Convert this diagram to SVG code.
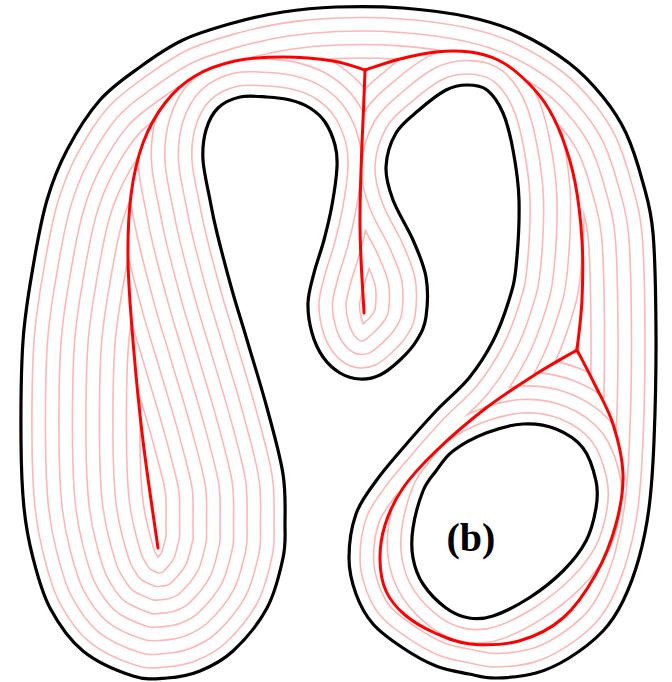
<svg xmlns="http://www.w3.org/2000/svg" xmlns:xlink="http://www.w3.org/1999/xlink" width="672" height="682" viewBox="0 0 672 682">
<style>
.p{stroke:#ffb6b6}
.w{stroke:#ffffff}
.axis{fill:none;stroke:#ff0000;stroke-width:3;stroke-linecap:round;stroke-linejoin:round}
.edge{fill:none;stroke:#000000;stroke-width:3.2;stroke-linejoin:round}
.lbl{font-family:"Liberation Serif","Times New Roman",serif;font-weight:bold;font-size:40px;fill:#000}
</style>
<defs>
<path id="bd" fill-rule="evenodd" clip-rule="evenodd" d="M133,676 C119,671.5 96.8,662.3 83,651 C69.2,639.7 58.3,623.5 50,608 C41.7,592.5 37.3,574.7 33,558 C28.7,541.3 26,527.5 24,508 C22,488.5 21.2,468.8 21,441 C20.8,413.2 21,370 23,341 C25,312 29,290.5 33,267 C37,243.5 41.3,219.5 47,200 C52.7,180.5 58.2,166.7 67,150 C75.8,133.3 87.8,113.8 100,100 C112.2,86.2 126.2,77 140,67 C153.8,57 167.5,47.3 183,40 C198.5,32.7 216.3,27.7 233,23 C249.7,18.3 265.8,14.7 283,12 C300.2,9.3 316,7.7 336,7 C356,6.3 380.8,6.3 403,8 C425.2,9.7 449.7,12.8 469,17 C488.3,21.2 502.3,25.3 519,33 C535.7,40.7 555,52.3 569,63 C583,73.7 593.5,85.3 603,97 C612.5,108.7 619.3,118.7 626,133 C632.7,147.3 638.5,166.3 643,183 C647.5,199.7 650.8,208 653,233 C655.2,258 655.8,298.3 656,333 C656.2,367.7 655.2,411.8 654,441 C652.8,470.2 651.5,488.5 649,508 C646.5,527.5 643.3,542.5 639,558 C634.7,573.5 629,588.8 623,601 C617,613.2 612,621.5 603,631 C594,640.5 580.2,651 569,658 C557.8,665 548.2,669.7 536,673 C523.8,676.3 507.2,677.8 496,678 C484.8,678.2 479,676 469,674 C459,672 447,670.3 436,666 C425,661.7 413.5,655 403,648 C392.5,641 380.8,633 373,624 C365.2,615 360,605 356,594 C352,583 349,571.3 349,558 C349,544.7 351.5,526.8 356,514 C360.5,501.2 368.2,492 376,481 C383.8,470 393,459.7 403,448 C413,436.3 425,422.7 436,411 C447,399.3 459.5,389.7 469,378 C478.5,366.3 486.3,354 493,341 C499.7,328 505.2,312.3 509,300 C512.8,287.7 514.3,283.7 516,267 C517.7,250.3 519.5,219.5 519,200 C518.5,180.5 515.7,164.5 513,150 C510.3,135.5 507.3,123 503,113 C498.7,103 493,94.7 487,90 C481,85.3 473.8,85 467,85 C460.2,85 454,85.8 446,90 C438,94.2 427.3,102.8 419,110 C410.7,117.2 401.5,123.5 396,133 C390.5,142.5 386.5,155.8 386,167 C385.5,178.2 388.5,187.8 393,200 C397.5,212.2 407.5,227.2 413,240 C418.5,252.8 423.8,264.2 426,277 C428.2,289.8 427.5,306.5 426,317 C424.5,327.5 421.3,332.8 417,340 C412.7,347.2 406.2,354.2 400,360 C393.8,365.8 386.7,371.8 380,375 C373.3,378.2 366.7,379.3 360,379 C353.3,378.7 346.2,376.7 340,373 C333.8,369.3 327.7,363.7 323,357 C318.3,350.3 314.5,342 312,333 C309.5,324 307.7,313 308,303 C308.3,293 311.3,283.5 314,273 C316.7,262.5 321,251.3 324,240 C327,228.7 329.8,217.2 332,205 C334.2,192.8 336.5,177 337,167 C337.5,157 337,152.5 335,145 C333,137.5 329.2,128.2 325,122 C320.8,115.8 315.8,111.7 310,108 C304.2,104.3 297.2,101.8 290,100 C282.8,98.2 275.3,97.5 267,97 C258.7,96.5 248.2,95.2 240,97 C231.8,98.8 223.7,102.5 218,108 C212.3,113.5 208.5,121.3 206,130 C203.5,138.7 202.3,148.3 203,160 C203.7,171.7 207.7,187.8 210,200 C212.3,212.2 213.3,218 217,233 C220.7,248 227,272.2 232,290 C237,307.8 241.2,320.3 247,340 C252.8,359.7 261,385.7 267,408 C273,430.3 280,454.7 283,474 C286,493.3 285,510 285,524 C285,538 286,544 283,558 C280,572 275.3,592.5 267,608 C258.7,623.5 244.2,640.5 233,651 C221.8,661.5 211,666.5 200,671 C189,675.5 178.2,677.2 167,678 C155.8,678.8 147,680.5 133,676 Z M413,528 C414.7,516.8 419.2,500.5 423,491 C426.8,481.5 431,477.7 436,471 C441,464.3 444.7,457.3 453,451 C461.3,444.7 474.3,437.5 486,433 C497.7,428.5 511.3,424.7 523,424 C534.7,423.3 546,425 556,429 C566,433 576.3,439.3 583,448 C589.7,456.7 593.8,471 596,481 C598.2,491 597.7,498 596,508 C594.3,518 591.5,530.5 586,541 C580.5,551.5 572.5,561.5 563,571 C553.5,580.5 540.7,590.5 529,598 C517.3,605.5 503,612.7 493,616 C483,619.3 476.8,619.3 469,618 C461.2,616.7 453.7,613.7 446,608 C438.3,602.3 428.5,592.3 423,584 C417.5,575.7 414.7,567.3 413,558 C411.3,548.7 411.3,539.2 413,528 Z"/>
<clipPath id="inside"><use xlink:href="#bd" href="#bd"/></clipPath>
</defs>
<rect width="672" height="682" fill="#ffffff"/>
<g id="offset-curves" clip-path="url(#inside)" fill="none" stroke-linejoin="round">
<use href="#bd" class="p" stroke-width="239.6"/>
<use href="#bd" class="w" stroke-width="236.4"/>
<use href="#bd" class="p" stroke-width="212.6"/>
<use href="#bd" class="w" stroke-width="209.4"/>
<use href="#bd" class="p" stroke-width="185.6"/>
<use href="#bd" class="w" stroke-width="182.4"/>
<use href="#bd" class="p" stroke-width="158.6"/>
<use href="#bd" class="w" stroke-width="155.4"/>
<use href="#bd" class="p" stroke-width="131.6"/>
<use href="#bd" class="w" stroke-width="128.4"/>
<use href="#bd" class="p" stroke-width="104.6"/>
<use href="#bd" class="w" stroke-width="101.4"/>
<use href="#bd" class="p" stroke-width="77.6"/>
<use href="#bd" class="w" stroke-width="74.4"/>
<use href="#bd" class="p" stroke-width="50.6"/>
<use href="#bd" class="w" stroke-width="47.4"/>
<use href="#bd" class="p" stroke-width="23.6"/>
<use href="#bd" class="w" stroke-width="20.4"/>
</g>
<g id="medial-axis">
<path id="axis-left" class="axis" d="M158,548 C155.5,530.2 147.2,475.5 143,441 C138.8,406.5 135.5,371.2 133,341 C130.5,310.8 128.3,284.3 128,260 C127.7,235.7 128.5,214.5 131,195 C133.5,175.5 137.3,158.3 143,143 C148.7,127.7 156.3,114.2 165,103 C173.7,91.8 183.3,83 195,76 C206.7,69 220.3,64.2 235,61 C249.7,57.8 266.7,57 283,57 C299.3,57 319.3,58.8 333,61 C346.7,63.2 359.7,68.5 365,70"/>
<path id="axis-right" class="axis" d="M365,70 C370.8,68.2 388.2,62 400,59 C411.8,56 424.3,53.2 436,52 C447.7,50.8 459.7,50.7 470,52 C480.3,53.3 489.3,55.8 498,60 C506.7,64.2 514.2,69.8 522,77 C529.8,84.2 538.3,93 545,103 C551.7,113 557,123.8 562,137 C567,150.2 571.7,164.8 575,182 C578.3,199.2 580.8,220.3 582,240 C583.2,259.7 582.8,281.7 582,300 C581.2,318.3 577.8,341.7 577,350"/>
<path id="axis-middle" class="axis" d="M365,70 C363.5,120 360,170 360,220 C360,260 363,290 364,313"/>
<path id="axis-loop" class="axis" d="M577,350 C570.2,354 551.2,364.3 536,374 C520.8,383.7 502.7,395.2 486,408 C469.3,420.8 449.8,437.7 436,451 C422.2,464.3 411.5,475.7 403,488 C394.5,500.3 388.8,513 385,525 C381.2,537 379.8,549 380,560 C380.2,571 381.8,581.8 386,591 C390.2,600.2 396.8,608 405,615 C413.2,622 424.2,628.2 435,633 C445.8,637.8 456,642.7 470,644 C484,645.3 503.5,645.3 519,641 C534.5,636.7 550.2,629.2 563,618 C575.8,606.8 587.2,589.7 596,574 C604.8,558.3 611.5,540.7 616,524 C620.5,507.3 623.5,490.7 623,474 C622.5,457.3 617.7,438.8 613,424 C608.3,409.2 601,397.3 595,385 C589,372.7 580,355.8 577,350"/>
</g>
<g id="boundary">
<use href="#bd" class="edge"/>
</g>
<g id="label">
<text class="lbl" x="471" y="551" text-anchor="middle">(b)</text>
</g>
</svg>
